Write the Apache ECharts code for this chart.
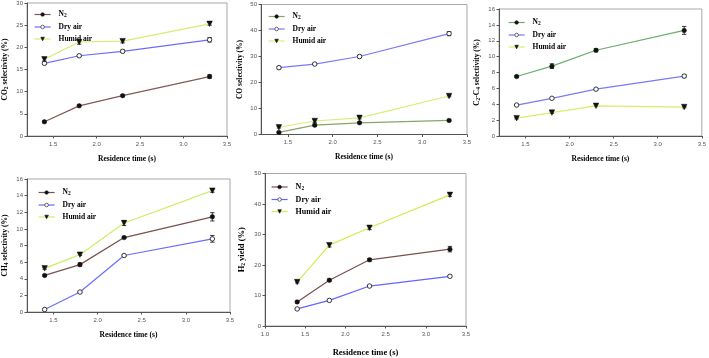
<!DOCTYPE html>
<html><head><meta charset="utf-8">
<script src="https://cdn.jsdelivr.net/npm/echarts@6/dist/echarts.min.js"></script>
<style>html,body{margin:0;padding:0;background:#fff}#c{width:709px;height:358px}</style>
</head><body><div id="c"></div>
<script>
// ---- data ----
const residence = [1.4, 1.8, 2.3, 3.3];
const seriesNames = ['N2', 'Dry air', 'Humid air'];
const xTickLabels = [1.5, 2.0, 2.5, 3.0, 3.5];
const xTickLabelsH2 = [1.0, 1.5, 2.0, 2.5, 3.0, 3.5];

const co2_N2 = [3.2, 6.8, 9.1, 13.4];
const co2_Dry = [16.4, 18.1, 19.1, 21.7];
const co2_Humid = [17.3, 21.2, 21.4, 25.3];
const co2_N2_err = [0.2, 0.2, 0.2, 0.4];
const co2_Dry_err = [0.3, 0.2, 0.3, 0.5];
const co2_Humid_err = [0.4, 0.5, 0.4, 0.3];

const co_N2 = [0.8, 3.6, 4.5, 5.4];
const co_Dry = [25.7, 27.1, 30.0, 38.8];
const co_Humid = [2.8, 5.2, 6.4, 14.8];
const co_N2_err = [0.3, 0.4, 0.3, 0.3];
const co_Dry_err = [0.5, 0.3, 0.5, 0.8];
const co_Humid_err = [0.3, 0.5, 0.4, 0.3];

const c2c4_N2 = [7.5, 8.8, 10.8, 13.3];
const c2c4_Dry = [3.9, 4.75, 5.9, 7.55];
const c2c4_Humid = [2.25, 2.95, 3.8, 3.65];
const c2c4_N2_err = [0.1, 0.3, 0.2, 0.5];
const c2c4_Dry_err = [0.05, 0.05, 0.1, 0.2];
const c2c4_Humid_err = [0.1, 0.1, 0.1, 0.1];

const ch4_N2 = [4.4, 5.7, 8.95, 11.45];
const ch4_Dry = [0.3, 2.4, 6.8, 8.8];
const ch4_Humid = [5.25, 6.9, 10.7, 14.6];
const ch4_N2_err = [0.1, 0.2, 0.1, 0.5];
const ch4_Dry_err = [0.1, 0.1, 0.1, 0.4];
const ch4_Humid_err = [0.1, 0.1, 0.3, 0.2];

const h2_N2 = [7.9, 15.0, 21.7, 25.2];
const h2_Dry = [5.6, 8.4, 13.1, 16.3];
const h2_Humid = [14.4, 26.5, 32.2, 43.0];
const h2_N2_err = [0.3, 0.4, 0.4, 0.9];
const h2_Dry_err = [0.2, 0.2, 0.2, 0.3];
const h2_Humid_err = [0.3, 0.6, 0.6, 0.5];

// ---- layout / style ----
const SERIF = '"Liberation Serif","Times New Roman",serif';
const SANS = '"Liberation Sans",Arial,sans-serif';
const panels = [
  {grid:{left:27, top:3, width:200, height:133}, xmin:1.2, xticks:xTickLabels, ymax:30, yint:5,
   yname:'CO{s|2} selectivity (%)', legend:{left:34, top:10.5}, nameSize:7.5,
   colors:['#83585a','#6c6cf8','#d3ee72'],
   vals:[co2_N2, co2_Dry, co2_Humid], errs:[co2_N2_err, co2_Dry_err, co2_Humid_err]},
  {grid:{left:261, top:4.5, width:206, height:130}, xmin:1.2, xticks:xTickLabels, ymax:50, yint:10,
   yname:'CO selectivity (%)', legend:{left:268, top:12.5}, nameSize:7.5,
   colors:['#8aa46c','#7a7af8','#d6ef7a'],
   vals:[co_N2, co_Dry, co_Humid], errs:[co_N2_err, co_Dry_err, co_Humid_err]},
  {grid:{left:499, top:9, width:206, height:127}, xmin:1.2, xticks:xTickLabels, ymax:16, yint:2,
   yname:'C{s|2}-C{s|4} selectivity (%)', legend:{left:508, top:18.5}, nameSize:7.5,
   colors:['#6aae6a','#7a7af5','#d6ee6c'],
   vals:[c2c4_N2, c2c4_Dry, c2c4_Humid], errs:[c2c4_N2_err, c2c4_Dry_err, c2c4_Humid_err]},
  {grid:{left:27, top:179, width:203, height:133}, xmin:1.2, xticks:xTickLabels, ymax:16, yint:2,
   yname:'CH{s|4} selectivity (%)', legend:{left:38, top:188.5}, nameSize:7.5,
   colors:['#7a5050','#6c6cff','#cdee66'],
   vals:[ch4_N2, ch4_Dry, ch4_Humid], errs:[ch4_N2_err, ch4_Dry_err, ch4_Humid_err]},
  {grid:{left:265, top:173.5, width:201, height:154.5}, xmin:1.0, xticks:xTickLabelsH2, ymax:50, yint:10,
   yname:'H{s|2} yield (%)', legend:{left:271, top:183}, nameSize:8.5,
   colors:['#7a5050','#6464ff','#cdee55'],
   vals:[h2_N2, h2_Dry, h2_Humid], errs:[h2_N2_err, h2_Dry_err, h2_Humid_err]}
];

const symbols = [
  {symbol:'circle', symbolSize:4.5, itemStyle:{color:'#111', borderColor:'#111', borderWidth:0.5}, symbolRotate:0},
  {symbol:'circle', symbolSize:4.5, itemStyle:{color:'#fff', borderColor:'#222', borderWidth:0.9}, symbolRotate:0},
  {symbol:'triangle', symbolSize:5.5, itemStyle:{color:'#111', borderColor:'#111', borderWidth:0.5}, symbolRotate:180}
];

const grids = [], xAxes = [], yAxes = [], series = [], legends = [];

panels.forEach((p, i) => {
  grids.push(Object.assign({show:true, borderColor:'#a8a8a8', borderWidth:1, containLabel:false}, p.grid));
  xAxes.push({
    type:'value', gridIndex:i, min:p.xmin, max:3.5,
    name:'Residence time (s)', nameLocation:'middle', nameGap: i===4 ? 22 : 19,
    nameTextStyle:{fontFamily:SERIF, fontWeight:'bold', fontSize: i===4 ? 8.5 : 7.5, color:'#000'},
    axisLine:{onZero:false, lineStyle:{color:'#555', width:1}},
    axisTick:{show:true, inside:false, length:2.5, customValues:p.xticks, lineStyle:{color:'#555'}},
    axisLabel:{customValues:p.xticks, formatter:v=>Number(v).toFixed(1), fontSize:6, color:'#555', margin:5, fontFamily:SANS},
    splitLine:{show:false}
  });
  yAxes.push({
    type:'value', gridIndex:i, min:0, max:p.ymax, interval:p.yint,
    name:p.yname, nameLocation:'middle', nameGap: i===4 ? 18 : 17, nameRotate:90,
    nameTextStyle:{fontFamily:SERIF, fontWeight:'bold', fontSize:p.nameSize, color:'#000',
      rich:{s:{fontSize:5.5, fontWeight:'bold', fontFamily:SERIF, color:'#000', verticalAlign:'bottom', padding:[4,0,0,0]}}},
    axisLine:{show:true, lineStyle:{color:'#555', width:1}},
    axisTick:{show:true, inside:false, length:2.5, lineStyle:{color:'#555'}},
    axisLabel:{fontSize:6, color:'#555', margin:4, fontFamily:SANS},
    splitLine:{show:false}
  });
  const legendData = [];
  seriesNames.forEach((nm, k) => {
    const id = nm + '#' + i;
    const sym = symbols[k];
    legendData.push({name:id});
    // error bars
    series.push({
      type:'custom', xAxisIndex:i, yAxisIndex:i, z:3, silent:true,
      data: residence.map((x, j) => [x, p.vals[k][j], p.errs[k][j]]),
      renderItem:(params, api) => {
        const x = api.value(0), y = api.value(1), e = api.value(2);
        const top = api.coord([x, y + e]), bot = api.coord([x, y - e]);
        const hw = 2.2;
        const st = {stroke:'#111', lineWidth:0.8};
        return {type:'group', children:[
          {type:'line', shape:{x1:top[0], y1:top[1], x2:bot[0], y2:bot[1]}, style:st},
          {type:'line', shape:{x1:top[0]-hw, y1:top[1], x2:top[0]+hw, y2:top[1]}, style:st},
          {type:'line', shape:{x1:bot[0]-hw, y1:bot[1], x2:bot[0]+hw, y2:bot[1]}, style:st}
        ]};
      }
    });
    series.push(Object.assign({
      type:'line', name:id, xAxisIndex:i, yAxisIndex:i, z:4,
      data: residence.map((x, j) => [x, p.vals[k][j]]),
      lineStyle:{color:p.colors[k], width:1.2},
      color:p.colors[k],
      showAllSymbol:true
    }, JSON.parse(JSON.stringify(sym))));
  });
  legends.push({
    orient:'vertical', left:p.legend.left, top:p.legend.top,
    data: legendData, itemWidth:16, itemHeight:4.5, itemGap:4, padding:0,
    selectedMode:false,
    itemStyle:{borderWidth:0.6, borderColor:'#111'},
    lineStyle:{width:1.2},
    formatter: n => {
      const base = n.split('#')[0];
      return base === 'N2' ? 'N{s|2}' : base;
    },
    textStyle:{fontFamily:SERIF, fontWeight:'bold', fontSize: i===4 ? 8 : 7.5, color:'#000', padding:[0,0,0,3],
      rich:{s:{fontSize:5.5, fontWeight:'bold', fontFamily:SERIF, color:'#000', verticalAlign:'bottom', padding:[3,0,0,0]}}}
  });
});

const chart = echarts.init(document.getElementById('c'), null, {renderer:'canvas'});
chart.setOption({
  animation:false,
  backgroundColor:'#fff',
  grid:grids, xAxis:xAxes, yAxis:yAxes, series:series, legend:legends
});
</script></body></html>
